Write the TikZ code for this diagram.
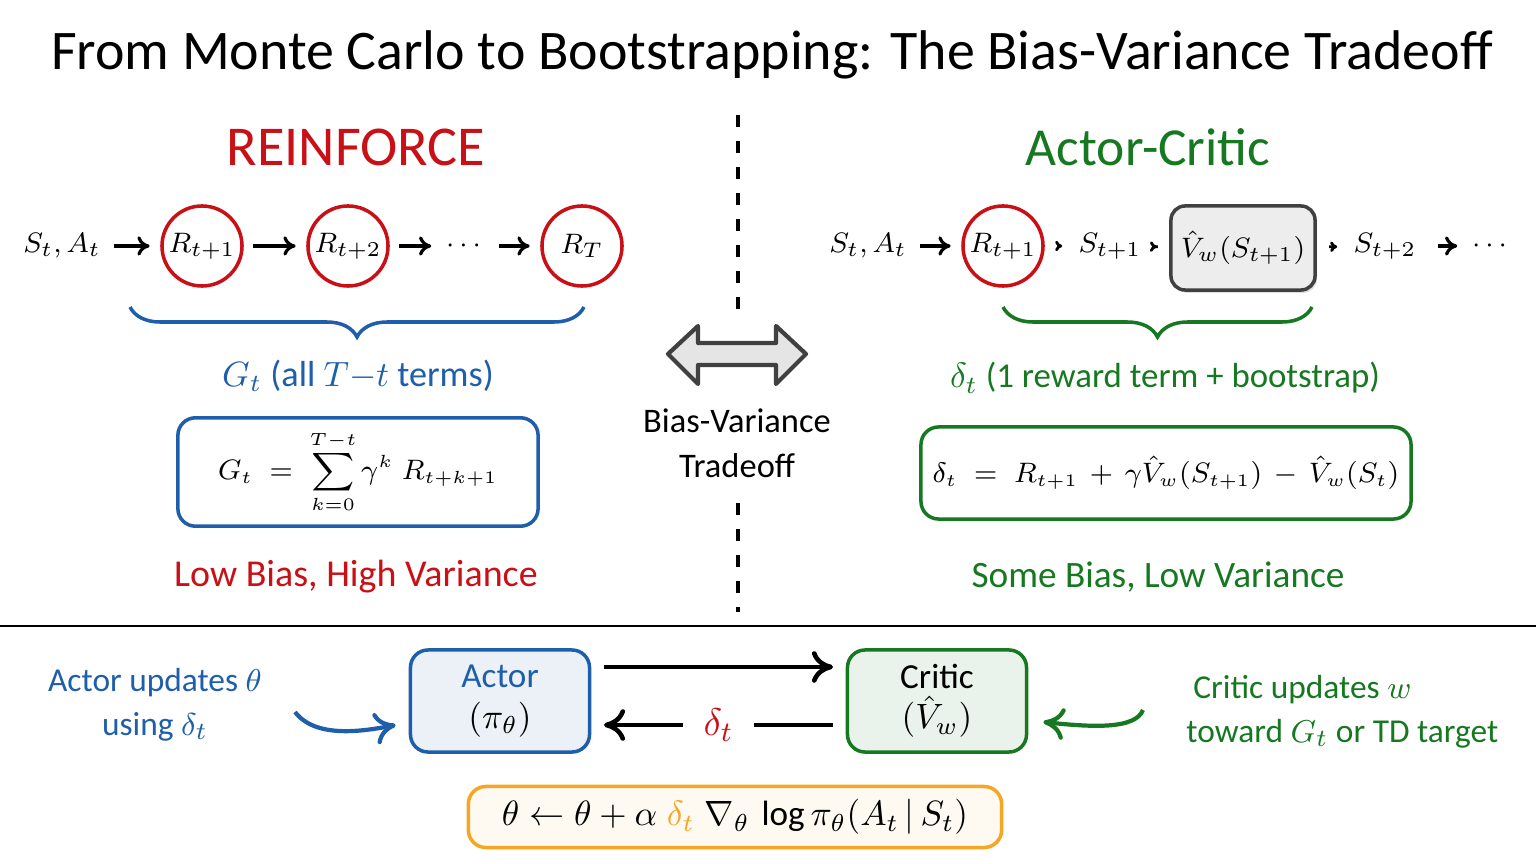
\documentclass[tikz,border=0pt]{standalone}
\usepackage{amsmath}
\usepackage{fontspec}
\setmainfont{Carlito}
\usetikzlibrary{arrows.meta, decorations.pathreplacing, positioning, math, shadows}
\definecolor{myred}{RGB}{200,16,22}
\definecolor{myblue}{RGB}{30,94,170}
\definecolor{mygreen}{RGB}{22,120,32}
\definecolor{myorange}{RGB}{246,166,35}

\tikzset{
  chaintext/.style={inner sep=1pt, font=\fontsize{8.2}{10}\selectfont},
  reward/.style={circle, draw=myred, line width=1pt, minimum size=0.8cm, inner sep=0pt, font=\fontsize{8}{10}\selectfont},
  valuebox/.style={rectangle, rounded corners=4pt, draw=black!75, fill=black!7, line width=1pt, minimum width=1.44cm, minimum height=0.84cm, inner xsep=1pt, font=\fontsize{8.2}{10}\selectfont,
    drop shadow={shadow xshift=0.6pt, shadow yshift=-0.8pt, opacity=0.25}},
  formbox/.style={rectangle, rounded corners=5pt, line width=1pt},
  agentbox/.style={rectangle, rounded corners=5pt, line width=1pt, minimum width=1.79cm, minimum height=1.02cm, align=center, font=\fontsize{10}{11.5}\selectfont},
  hint/.style={font=\fontsize{9.5}{12.5}\selectfont},
  chain/.style={-{To[length=3.5pt,width=5.5pt]}, line width=0.9pt, shorten <=2.5pt, shorten >=3pt},
  tiny/.style={-{To[length=2pt,width=3pt]}, line width=0.8pt, shorten <=3.5pt, shorten >=3.5pt},
  flow/.style={-{To[length=6pt,width=9pt]}, line width=1.3pt, shorten <=3.6pt, shorten >=3.6pt},
  brace/.style={decorate, decoration={brace, mirror, amplitude=0.3cm}, line width=1pt}
}

\begin{document}
\begin{tikzpicture}[x=0.01cm, y=-0.01cm]
\tikzmath{
\chainy=246;
\divx=738;
}
\useasboundingbox (0,0) rectangle (1536,864);

% title and divider lines
\node (title) at (772,55) {\fontsize{15.9}{19}\selectfont From Monte Carlo to Bootstrapping: The Bias-Variance Tradeoff};
\draw[line width=0.9pt, dash pattern=on 0.12cm off 0.14cm] (\divx,115) -- (\divx,312);
\draw[line width=0.9pt, dash pattern=on 0.12cm off 0.14cm] (\divx,503) -- (\divx,612);
\draw[line width=0.8pt] (0,626) -- (1536,626);

% REINFORCE side
\node[text=myred, font=\fontsize{16}{19}\selectfont] (rf) at (356,147) {REINFORCE};
\node[chaintext] (sa) at (62,\chainy) {$S_t, A_t$};
\node[reward] (r1) at (202,\chainy) {$R_{t+1}$};
\node[reward] (r2) at (348,\chainy) {$R_{t+2}$};
\node[chaintext] (dots) at (466,\chainy) {$\cdots$};
\node[reward] (rT) at (582,\chainy) {$R_T$};
\draw[chain] (sa) -- (r1);
\draw[chain] (r1) -- (r2);
\draw[chain] (r2) -- (dots);
\draw[chain] (dots) -- (rT);
\draw[brace, myblue] (130,307) -- (584,307);
\node[text=myblue, font=\fontsize{10.3}{12}\selectfont] (gt) at (358,376) {$G_t$ (all $T{-}t$ terms)};
\node[formbox, draw=myblue, minimum width=3.6cm, minimum height=0.95cm, font=\fontsize{7.6}{9}\selectfont] (gbox) at (358,472)
  {$G_t \;=\; \displaystyle\sum_{k=0}^{T-t} \gamma^k\; R_{t+k+1}$};
\node[text=myred, font=\fontsize{10.8}{13}\selectfont] (lowb) at (356,577) {Low Bias, High Variance};

% Actor-Critic side
\node[text=mygreen, font=\fontsize{15.2}{18}\selectfont] (ac) at (1148,147) {Actor-Critic};
\node[chaintext] (sb) at (868,\chainy) {$S_t, A_t$};
\node[reward] (q1) at (1003,\chainy) {$R_{t+1}$};
\node[chaintext] (s1) at (1110,\chainy) {$S_{t+1}$};
\node[valuebox] (vb) at (1243,248) {$\hat V_w(S_{t+1})$};
\node[chaintext] (s2) at (1385,\chainy) {$S_{t+2}$};
\node[chaintext] (dots2) at (1492,\chainy) {$\cdots$};
\draw[chain] (sb) -- (q1);
\draw[tiny] (q1) -- (s1);
\draw[tiny] (s1) -- (vb);
\draw[tiny] (vb) -- (s2);
\draw[chain, shorten <=5pt] (s2) -- (dots2);
\draw[brace, mygreen] (1003,307) -- (1312,307);
\node[text=mygreen, font=\fontsize{9.9}{12}\selectfont] (dt) at (1165,378) {$\delta_t$ (1 reward term + bootstrap)};
\node[formbox, draw=mygreen, minimum width=4.89cm, minimum height=0.92cm, font=\fontsize{7.7}{9}\selectfont] (dbox) at (1166,473)
  {$\delta_t \;=\; R_{t+1} \,+\, \gamma\hat V_w(S_{t+1}) \,-\, \hat V_w(S_t)$};
\node[text=mygreen, font=\fontsize{10.6}{13}\selectfont] (someb) at (1158,577) {Some Bias, Low Variance};

% tradeoff arrow
\draw[line width=1.2pt, draw=black!75, fill=black!10, line join=round]
  (668,354) -- (698,326) -- (698,343) -- (776,343) -- (776,326) -- (806,354)
  -- (776,384) -- (776,365) -- (698,365) -- (698,384) -- cycle;
\node[align=center, font=\fontsize{9.8}{12.7}\selectfont] (bv) at (737,443) {Bias-Variance\\Tradeoff};

% actor and critic loop
\node[agentbox, draw=myblue, fill=myblue!9, text=myblue] (actor) at (500,701) {Actor\\\textcolor{black}{$(\pi_\theta)$}};
\node[agentbox, draw=mygreen, fill=mygreen!9] (critic) at (937,701) {Critic\\$(\hat V_w)$};
\draw[flow] ([yshift=0.34cm]actor.east) -- ([yshift=0.34cm]critic.west);
\draw[flow] ([yshift=-0.24cm]critic.west) --
  node[fill=white, inner xsep=6pt, text=myred, font=\fontsize{11}{13}\selectfont] (dlt) {$\delta_t$} ([yshift=-0.24cm]actor.east);

\node[hint, align=center, text=myblue] (aup) at (155,705) {Actor updates $\theta$\\using $\delta_t$};
\node[hint, align=left, text=mygreen, anchor=west] (cup) at (1174,712) {\hspace*{0.07cm}Critic updates $w$\\toward $G_t$ or TD target};
\coordinate (aa) at (295,712);
\coordinate (cc) at (1143,710);
\draw[flow, shorten <=0pt, shorten >=0pt, myblue, line width=1.2pt] (aa) .. controls (315,738) and (360,732) .. ([xshift=-0.13cm,yshift=-0.24cm]actor.west);
\draw[flow, shorten <=0pt, shorten >=0pt, mygreen, line width=1.2pt] (cc) .. controls (1135,730) and (1090,727) .. ([xshift=0.15cm,yshift=-0.21cm]critic.east);

% update rule
\node[formbox, draw=myorange, fill=myorange!6, minimum width=5.33cm, minimum height=0.61cm, font=\fontsize{10}{12}\selectfont] (upd) at (735,817)
  {$\theta \leftarrow \theta + \alpha\;\textcolor{myorange}{\delta_t}\;\nabla_\theta \,\log \pi_\theta(A_t \,|\, S_t)$};
\end{tikzpicture}
\end{document}
